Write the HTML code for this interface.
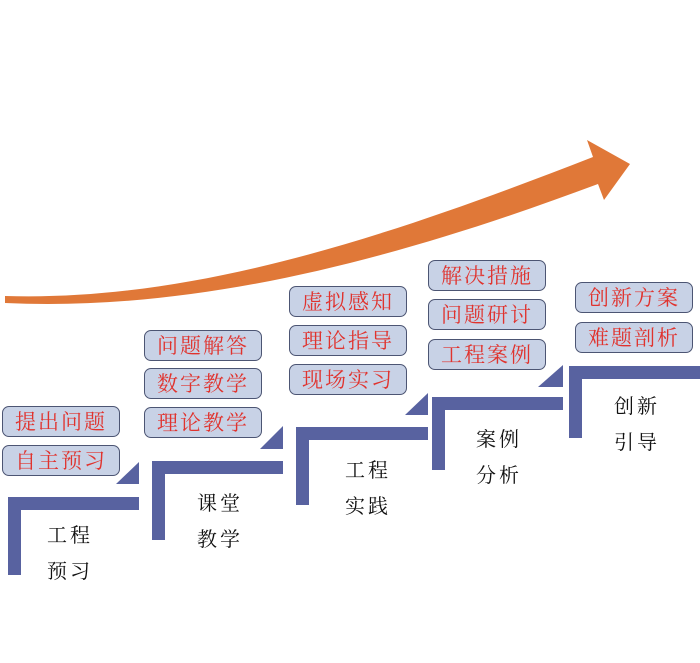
<!DOCTYPE html>
<html><head><meta charset="utf-8"><style>
body{margin:0;width:700px;height:663px;background:#fff;position:relative;overflow:hidden;font-family:"Liberation Sans","Noto Sans CJK SC",sans-serif}
.b{position:absolute;width:118px;height:31px;box-sizing:border-box;border:1.5px solid #4c5573;border-radius:7px;background:#c8d2e6;color:#e0332e;font-size:21px;line-height:28px;text-align:center;letter-spacing:2px;font-family:"Noto Serif CJK SC","Noto Sans CJK SC",serif}
.t{position:absolute;font-size:20px;line-height:36px;color:#111;letter-spacing:3px;font-family:"Noto Serif CJK SC","Noto Sans CJK SC",serif}
</style></head><body>
<svg width="700" height="663" style="position:absolute;left:0;top:0">
<g fill="#5862a0">
<path d="M8,497H139V510H21V575H8Z"/><path d="M116,484L139,462V484Z"/>
<path d="M152,461H283V474H165V540H152Z"/><path d="M260,449L283,426V449Z"/>
<path d="M296,427H428V440H309V505H296Z"/><path d="M405,415L428,393V415Z"/>
<path d="M432,397H563V410H445V470H432Z"/><path d="M538,387L563,365V387Z"/>
<path d="M569,366H700V379H582V438H569Z"/>
</g>
<path fill="#e07838" d="M5,296 C200,302 400,232 593,157 L587,140 L630,164 L604,200 L598,184 C400,258 200,312 5,303 Z"/>
</svg>
<div class="b" style="left:2px;top:406px">提出问题</div>
<div class="b" style="left:2px;top:445px">自主预习</div>
<div class="b" style="left:144px;top:330px">问题解答</div>
<div class="b" style="left:144px;top:368px">数字教学</div>
<div class="b" style="left:144px;top:407px">理论教学</div>
<div class="b" style="left:289px;top:286px">虚拟感知</div>
<div class="b" style="left:289px;top:325px">理论指导</div>
<div class="b" style="left:289px;top:364px">现场实习</div>
<div class="b" style="left:428px;top:260px">解决措施</div>
<div class="b" style="left:428px;top:299px">问题研讨</div>
<div class="b" style="left:428px;top:339px">工程案例</div>
<div class="b" style="left:575px;top:282px">创新方案</div>
<div class="b" style="left:575px;top:322px">难题剖析</div>
<div class="t" style="left:47px;top:516px">工程<br>预习</div>
<div class="t" style="left:197px;top:484px">课堂<br>教学</div>
<div class="t" style="left:345px;top:451px">工程<br>实践</div>
<div class="t" style="left:476px;top:420px">案例<br>分析</div>
<div class="t" style="left:614px;top:387px">创新<br>引导</div>
</body></html>
